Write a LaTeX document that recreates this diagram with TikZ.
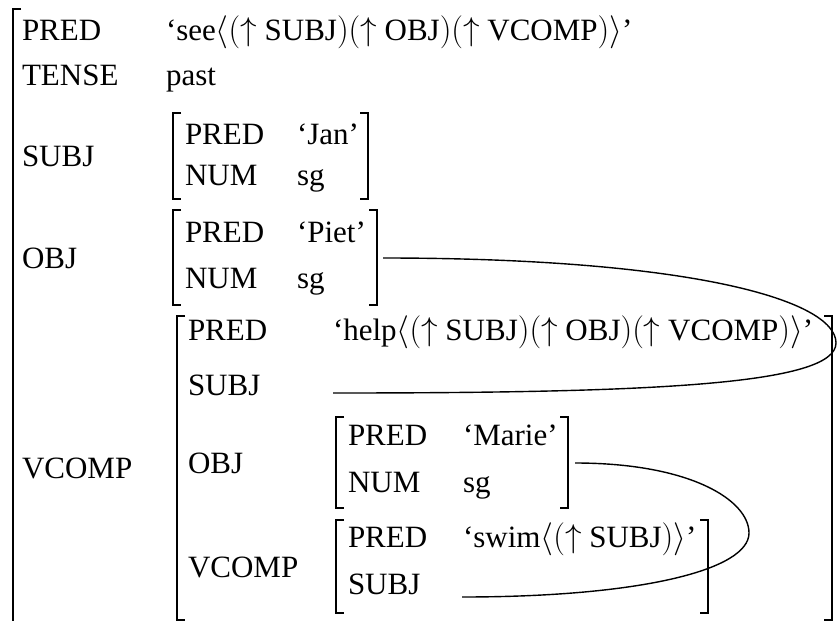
\documentclass[tikz,border=0pt]{standalone}
\usepackage{fix-cm}
\usepackage{fontspec}
\setmainfont{Liberation Serif}
% angle brackets, parentheses and arrows a little larger than the text
\DeclareMathSizes{31}{33}{23}{17}
% square brackets of an attribute-value matrix: left, right, top, bottom
\newcommand\fsbrackets[4]{%
  \draw[brk] (#1+8,#3) -- (#1,#3) -- (#1,#4) -- (#1+8,#4);
  \draw[brk] (#2-8,#3) -- (#2,#3) -- (#2,#4) -- (#2-8,#4);}
\begin{document}
\begin{tikzpicture}[x=1pt,y=-1pt,
  every node/.style={inner sep=0pt,outer sep=0pt,anchor=base west,
    font=\fontsize{31}{37}\selectfont},
  brk/.style={line width=1.6pt},
  link/.style={line width=1.4pt}]
\useasboundingbox (0,0) rectangle (838,621);

% outer f-structure
\draw[brk] (21,9) -- (13,9) -- (13,630);
\node (p0)  at (22,40)  {PRED};
\node (p0v) at (166,40) {‘see$\langle(\uparrow$ SUBJ$)(\uparrow$ OBJ$)(\uparrow$ VCOMP$)\rangle$’};
\node (t0)  at (22,85)  {TENSE};
\node (t0v) at (166,85) {past};

% SUBJ
\node (s0) at (22,166) {SUBJ};
\fsbrackets{173}{368}{113}{199}
\node (sp)  at (185,144) {PRED};
\node (spv) at (297,144) {‘Jan’};
\node (sn)  at (185,185) {NUM};
\node (snv) at (297,185) {sg};

% OBJ
\node (o0) at (22,268) {OBJ};
\fsbrackets{173}{377}{210}{305}
\node (op)  at (185,242) {PRED};
\node (opv) at (297,242) {‘Piet’};
\node (on)  at (185,288) {NUM};
\node (onv) at (297,288) {sg};

% VCOMP
\node (vc0) at (22,478) {VCOMP};
\fsbrackets{177}{832}{316}{620}
\node (hp)  at (188,340) {PRED};
\node (hpv) at (333,340) {‘help$\langle(\uparrow$ SUBJ$)(\uparrow$ OBJ$)(\uparrow$ VCOMP$)\rangle$’};
\node (hs)  at (188,395) {SUBJ};

% embedded OBJ
\node (ho) at (188,473) {OBJ};
\fsbrackets{336}{568}{417}{508}
\node (mp)  at (348,445) {PRED};
\node (mpv) at (463,445) {‘Marie’};
\node (mn)  at (348,492) {NUM};
\node (mnv) at (463,492) {sg};

% embedded VCOMP
\node (hv) at (188,577) {VCOMP};
\fsbrackets{336}{708}{520}{613}
\node (wp)  at (348,547) {PRED};
\node (wpv) at (463,547) {‘swim$\langle(\uparrow$ SUBJ$)\rangle$’};
\node (ws)  at (348,594) {SUBJ};

% structure-sharing links
\coordinate (pietR)    at (383,258);
\coordinate (helpSubj) at (333,393);
\coordinate (bendA)    at (836,343);
\coordinate (marieR)   at (575,463);
\coordinate (swimSubj) at (462,597);
\coordinate (bendB)    at (749,533);
\draw[link] (pietR) .. controls (690,258) and (836,300) .. (bendA)
                    .. controls (836,385) and (650,393) .. (helpSubj);
\draw[link] (marieR) .. controls (690,463) and (749,500) .. (bendB)
                     .. controls (749,570) and (640,597) .. (swimSubj);
\end{tikzpicture}
\end{document}
